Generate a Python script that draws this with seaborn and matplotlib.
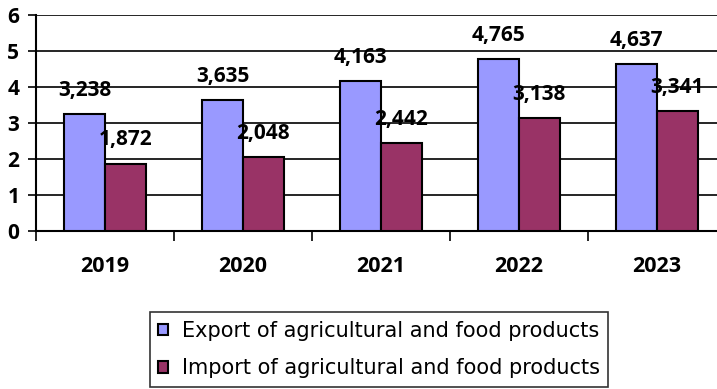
import pandas as pd
import numpy as np
from matplotlib import pyplot as plt
import seaborn as sns

years = ["2019", "2020", "2021", "2022", "2023"]
export_vals = [3.238, 3.635, 4.163, 4.765, 4.637]
import_vals = [1.872, 2.048, 2.442, 3.138, 3.341]
series = ["Export of agricultural and food products",
          "Import of agricultural and food products"]
colors = ["#9999FF", "#993366"]

df = pd.DataFrame({
    "year": years * 2,
    "value": export_vals + import_vals,
    "series": [series[0]] * len(years) + [series[1]] * len(years),
})

sns.set_style("white")
plt.rcParams["font.family"] = ["Open Sans", "DejaVu Sans"]
plt.rcParams["text.color"] = "black"
plt.rcParams["xtick.color"] = "black"
plt.rcParams["ytick.color"] = "black"

fig = plt.figure(figsize=(7.17, 3.89), dpi=100)
ax = fig.add_axes([36 / 717, 1 - 231 / 389, 690 / 717, 216 / 389])

sns.barplot(
    data=df, x="year", y="value", hue="series", palette=colors, saturation=1,
    width=0.59, gap=0, edgecolor="black", linewidth=1.5, ax=ax, zorder=3,
)

# data labels above bars
for cont in ax.containers:
    for bar in cont:
        h = bar.get_height()
        ax.annotate(f"{h:,.3f}".replace(".", ","),
                    (bar.get_x() + bar.get_width() / 2, h),
                    xytext=(0, 17), textcoords="offset points",
                    ha="center", va="center", fontsize=15, fontweight="bold",
                    zorder=5)

ax.set_ylim(0, 6)
ax.set_yticks(range(0, 7))
ax.set_xlim(-0.5, len(years) - 0.5)
ax.yaxis.grid(True, color="black", linewidth=1.2, zorder=0)
ax.set_axisbelow(True)
for s in ["top", "right"]:
    ax.spines[s].set_visible(False)
for s in ["left", "bottom"]:
    ax.spines[s].set_color("black")
    ax.spines[s].set_linewidth(1.5)

ax.set_xlabel("")
ax.set_ylabel("")
ax.tick_params(axis="y", length=6, width=1.2, direction="out", pad=6,
               labelsize=15, left=True)
ax.tick_params(axis="x", which="major", length=0, pad=18, labelsize=15.5)
ax.set_xticks(np.arange(-0.5, len(years), 1), minor=True)
ax.tick_params(axis="x", which="minor", length=7, width=1.2, direction="out",
               bottom=True)
for lbl in ax.get_xticklabels() + ax.get_yticklabels():
    lbl.set_fontweight("bold")

handles, labels = ax.get_legend_handles_labels()
ax.get_legend().remove()
leg = fig.legend(handles, labels, loc="upper center",
                 bbox_to_anchor=(379 / 717, 1 - 302 / 389),
                 prop={"family": "DejaVu Sans", "size": 15},
                 frameon=True, fancybox=False, shadow=False,
                 handlelength=0.47, handleheight=0.47, handletextpad=0.65,
                 labelspacing=0.85, borderpad=0.4)
leg.get_frame().set_edgecolor("black")
leg.get_frame().set_linewidth(1.2)

fig.savefig("out.png", dpi=100)
